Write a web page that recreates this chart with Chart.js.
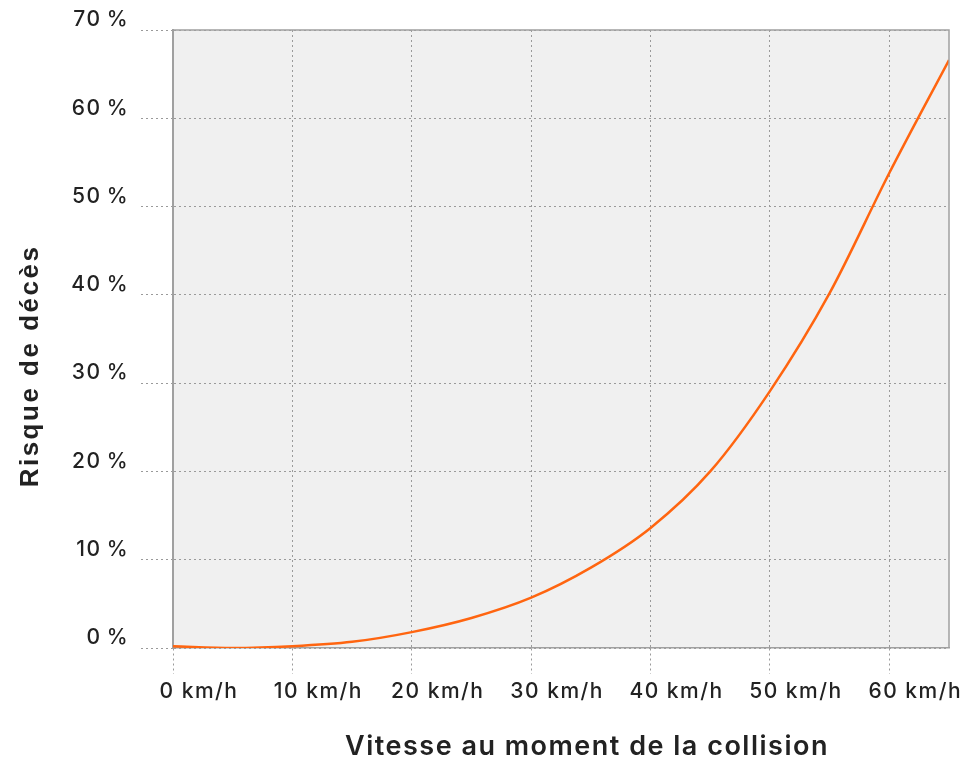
<!DOCTYPE html>
<html>
<head>
<meta charset="utf-8">
<script src="https://cdn.jsdelivr.net/npm/chart.js@4.4.1/dist/chart.umd.min.js"></script>
<style>
  html, body { margin: 0; padding: 0; background: #fff; }
  #wrap { width: 973px; height: 766px; }
</style>
</head>
<body>
<div id="wrap"><canvas id="riskChart"></canvas></div>
<script>
// speed (km/h) and risk of death (%)
const speeds = [0, 5, 10, 15, 20, 25, 30, 35, 40, 45, 50, 55, 60, 65];
const risk = [0.2, 0.0, 0.2, 0.7, 1.8, 3.4, 5.7, 9.1, 13.6, 20.0, 29.1, 40.2, 53.8, 66.6];
const xTicks = [0, 10, 20, 30, 40, 50, 60];
const yTicks = [0, 10, 20, 30, 40, 50, 60, 70];
const xTitle = "Vitesse au moment de la collision";
const yTitle = "Risque de décès";

const gridColor = "#9a9a9a";
const textColor = "#222";

// grey plot background, outline, letter spacing and axis titles
const plotBox = {
    id: "plotBox",
    beforeLayout(chart) {
        chart.ctx.letterSpacing = "1.5px";
    },
    beforeDraw(chart) {
        const { ctx, chartArea: a } = chart;
        ctx.letterSpacing = "1.5px";
        ctx.save();
        ctx.fillStyle = "#f0f0f0";
        ctx.fillRect(a.left, a.top, a.right - a.left, a.bottom - a.top);
        ctx.restore();
    },
    afterDatasetsDraw(chart) {
        const { ctx, chartArea: a } = chart;
        ctx.save();
        ctx.strokeStyle = "#a0a0a0";
        ctx.lineWidth = 1.5;
        ctx.beginPath();
        ctx.moveTo(a.left, a.top);
        ctx.lineTo(a.right, a.top);
        ctx.lineTo(a.right, a.bottom);
        ctx.stroke();
        ctx.restore();
    },
    afterDraw(chart) {
        const { ctx, chartArea: a } = chart;
        ctx.save();
        ctx.fillStyle = textColor;
        ctx.textAlign = "center";
        ctx.textBaseline = "middle";
        ctx.letterSpacing = "1.5px";
        ctx.font = "600 27px Inter";
        ctx.fillText(xTitle, (a.left + a.right) / 2 + 26, 747);
        ctx.letterSpacing = "2.5px";
        ctx.font = "bold 26px 'Liberation Sans'";
        ctx.translate(31, (a.top + a.bottom) / 2 + 27);
        ctx.rotate(-Math.PI / 2);
        ctx.fillText(yTitle, 0, 0);
        ctx.restore();
    }
};

const ctx = document.getElementById("riskChart").getContext("2d");
new Chart(ctx, {
    type: "line",
    data: {
        datasets: [{
            data: speeds.map((s, i) => ({ x: s, y: risk[i] })),
            borderColor: "#ff6510",
            borderWidth: 2.5,
            pointRadius: 0,
            cubicInterpolationMode: "monotone",
            fill: false
        }]
    },
    options: {
        responsive: true,
        maintainAspectRatio: false,
        animation: false,
        layout: { padding: { left: 0, top: 30, right: 24, bottom: 0 } },
        plugins: { legend: { display: false }, tooltip: { enabled: false } },
        scales: {
            x: {
                type: "linear",
                min: 0,
                max: 65,
                afterBuildTicks(scale) { scale.ticks = xTicks.map(v => ({ value: v })); },
                afterFit(scale) { scale.height = 766 - 648; },
                ticks: {
                    callback: v => v + " km/h",
                    color: textColor,
                    padding: 5,
                    labelOffset: 26,
                    maxRotation: 0,
                    font: { family: "Inter", size: 21, weight: "500" }
                },
                grid: {
                    color: gridColor,
                    tickLength: 26,
                    tickBorderDash: [2, 3]
                },
                border: { color: "#a0a0a0", width: 1.5, dash: [2, 3] }
            },
            y: {
                min: 0,
                max: 70,
                afterBuildTicks(scale) { scale.ticks = yTicks.map(v => ({ value: v })); },
                afterFit(scale) { scale.width = 173; },
                ticks: {
                    callback: v => v + "\u2009%",
                    color: textColor,
                    padding: 12,
                    labelOffset: -10,
                    font: { family: "Inter", size: 21, weight: "500" }
                },
                grid: {
                    color: gridColor,
                    tickLength: 32,
                    tickBorderDash: [2, 3]
                },
                border: { color: "#a0a0a0", width: 2, dash: [2, 3] }
            }
        }
    },
    plugins: [plotBox]
});
</script>
</body>
</html>
